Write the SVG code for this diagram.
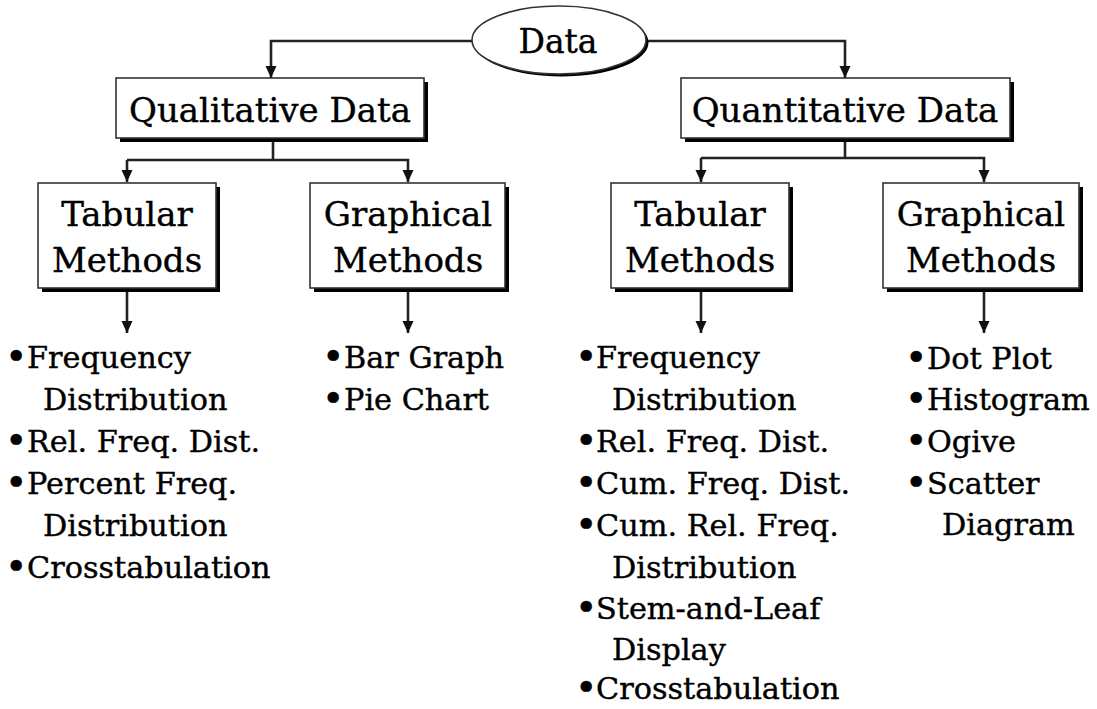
<svg xmlns="http://www.w3.org/2000/svg" width="1097" height="709" viewBox="0 0 1097 709">
<style>
.bg{fill:#ffffff}
.shadow{fill:#000000}
.box{fill:#ffffff;stroke:#333333;stroke-width:1.6}
.t{font-family:"DejaVu Serif","Liberation Serif",serif;fill:#000000;stroke:#000000;stroke-width:0.4}
.bt{font-size:34px;text-anchor:middle}
.lt{font-size:30.3px}
.b{font-size:38px}
.conn{fill:none;stroke:#222222;stroke-width:2.6}
</style>
<defs>
<marker id="arr" markerUnits="userSpaceOnUse" markerWidth="14" markerHeight="14" viewBox="0 0 14 14" refX="12" refY="7" orient="auto">
<path d="M0,1.5 L12,7 L0,12.5 Z" fill="#111111"/>
</marker>
</defs>
<rect class="bg" x="0" y="0" width="1097" height="709"/>

<g id="connectors">
<polyline class="conn" points="472,41 271,41 271,78" marker-end="url(#arr)"/>
<polyline class="conn" points="647,41 845,41 845,78" marker-end="url(#arr)"/>
<line class="conn" x1="273" y1="142" x2="273" y2="160"/>
<polyline class="conn" points="127,160 408,160 408,182" marker-end="url(#arr)"/>
<line class="conn" x1="127" y1="160" x2="127" y2="182" marker-end="url(#arr)"/>
<line class="conn" x1="845" y1="142" x2="845" y2="158"/>
<polyline class="conn" points="701,158 984,158 984,182" marker-end="url(#arr)"/>
<line class="conn" x1="701" y1="158" x2="701" y2="182" marker-end="url(#arr)"/>
<line class="conn" x1="127" y1="292" x2="127" y2="333" marker-end="url(#arr)"/>
<line class="conn" x1="408" y1="292" x2="408" y2="333" marker-end="url(#arr)"/>
<line class="conn" x1="701" y1="292" x2="701" y2="333" marker-end="url(#arr)"/>
<line class="conn" x1="984" y1="292" x2="984" y2="333" marker-end="url(#arr)"/>
</g>

<g id="data">
<ellipse class="shadow" cx="561.5" cy="42.5" rx="87" ry="34"/>
<ellipse class="box" cx="559" cy="40" rx="87" ry="34"/>
<text class="t" x="558" y="53" font-size="33" text-anchor="middle">Data</text>
</g>

<g id="qualitative">
<rect class="shadow" x="120" y="82" width="308" height="60"/>
<rect class="box" x="116" y="78" width="308" height="60"/>
<text class="t bt" x="270" y="122">Qualitative Data</text>
</g>

<g id="quantitative">
<rect class="shadow" x="685" y="82" width="329" height="60"/>
<rect class="box" x="681" y="78" width="329" height="60"/>
<text class="t bt" x="845" y="122">Quantitative Data</text>
</g>

<g id="qual-tabular">
<rect class="shadow" x="42" y="187" width="178" height="105"/>
<rect class="box" x="38" y="183" width="178" height="105"/>
<text class="t bt" x="127" y="226">Tabular</text>
<text class="t bt" x="127" y="272">Methods</text>
</g>

<g id="qual-graphical">
<rect class="shadow" x="314" y="187" width="195" height="105"/>
<rect class="box" x="310" y="183" width="195" height="105"/>
<text class="t bt" x="408" y="226">Graphical</text>
<text class="t bt" x="408" y="272">Methods</text>
</g>

<g id="quant-tabular">
<rect class="shadow" x="615" y="187" width="178" height="105"/>
<rect class="box" x="611" y="183" width="178" height="105"/>
<text class="t bt" x="700" y="226">Tabular</text>
<text class="t bt" x="700" y="272">Methods</text>
</g>

<g id="quant-graphical">
<rect class="shadow" x="887" y="187" width="196" height="105"/>
<rect class="box" x="883" y="183" width="196" height="105"/>
<text class="t bt" x="981" y="226">Graphical</text>
<text class="t bt" x="981" y="272">Methods</text>
</g>

<g id="qual-tabular-list">
<text class="t lt" x="5" y="369"><tspan class="b">•</tspan><tspan x="27" y="368">Frequency</tspan></text>
<text class="t lt" x="43" y="410">Distribution</text>
<text class="t lt" x="5" y="453"><tspan class="b">•</tspan><tspan x="27" y="452">Rel. Freq. Dist.</tspan></text>
<text class="t lt" x="5" y="495"><tspan class="b">•</tspan><tspan x="27" y="494">Percent Freq.</tspan></text>
<text class="t lt" x="43" y="536">Distribution</text>
<text class="t lt" x="5" y="579"><tspan class="b">•</tspan><tspan x="27" y="578">Crosstabulation</tspan></text>
</g>

<g id="qual-graphical-list">
<text class="t lt" x="322" y="369"><tspan class="b">•</tspan><tspan x="344" y="368">Bar Graph</tspan></text>
<text class="t lt" x="322" y="411"><tspan class="b">•</tspan><tspan x="344" y="410">Pie Chart</tspan></text>
</g>

<g id="quant-tabular-list">
<text class="t lt" x="575" y="369"><tspan class="b">•</tspan><tspan x="596" y="368">Frequency</tspan></text>
<text class="t lt" x="612" y="410">Distribution</text>
<text class="t lt" x="575" y="453"><tspan class="b">•</tspan><tspan x="596" y="452">Rel. Freq. Dist.</tspan></text>
<text class="t lt" x="575" y="495"><tspan class="b">•</tspan><tspan x="596" y="494">Cum. Freq. Dist.</tspan></text>
<text class="t lt" x="575" y="537"><tspan class="b">•</tspan><tspan x="596" y="536">Cum. Rel. Freq.</tspan></text>
<text class="t lt" x="612" y="578">Distribution</text>
<text class="t lt" x="575" y="620"><tspan class="b">•</tspan><tspan x="596" y="619">Stem-and-Leaf</tspan></text>
<text class="t lt" x="612" y="660">Display</text>
<text class="t lt" x="575" y="700"><tspan class="b">•</tspan><tspan x="596" y="699">Crosstabulation</tspan></text>
</g>

<g id="quant-graphical-list">
<text class="t lt" x="905" y="370"><tspan class="b">•</tspan><tspan x="927" y="369">Dot Plot</tspan></text>
<text class="t lt" x="905" y="411"><tspan class="b">•</tspan><tspan x="927" y="410">Histogram</tspan></text>
<text class="t lt" x="905" y="453"><tspan class="b">•</tspan><tspan x="927" y="452">Ogive</tspan></text>
<text class="t lt" x="905" y="495"><tspan class="b">•</tspan><tspan x="927" y="494">Scatter</tspan></text>
<text class="t lt" x="942" y="535">Diagram</text>
</g>
</svg>
